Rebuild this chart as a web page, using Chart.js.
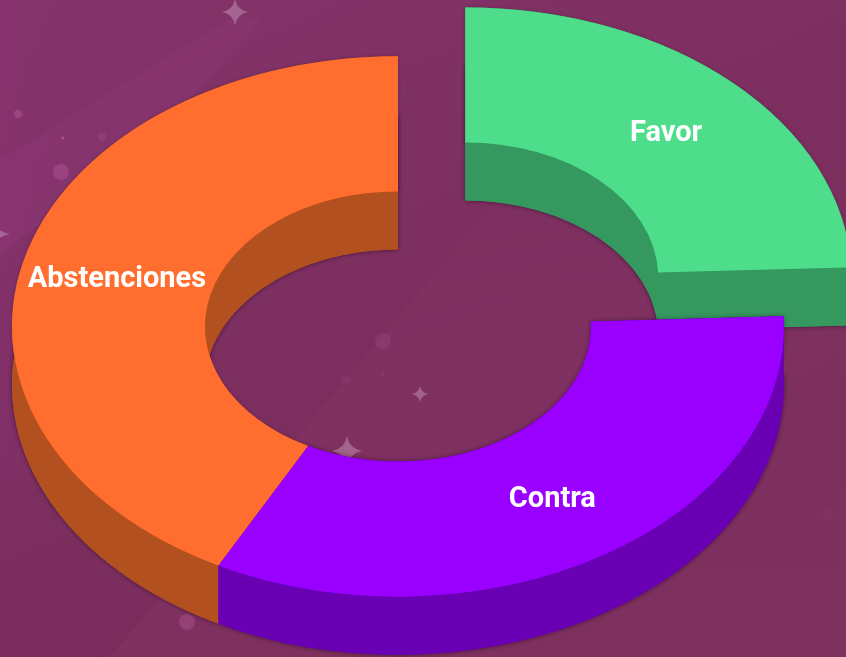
<!DOCTYPE html>
<html>
<head>
<meta charset="UTF-8" />
<title>Votos</title>
<style>
    html, body { margin: 0; padding: 0; background: #7f3162; overflow: hidden; }
    canvas { display: block; }
</style>
<script src="https://cdn.jsdelivr.net/npm/chart.js@4/dist/chart.umd.min.js"></script>
</head>
<body>
<canvas id="votos" width="846" height="657"></canvas>
<script>
var labels = ["Favor", "Contra", "Abstenciones"];
var votes = [24.4, 33.3, 42.3];
var topColors = ["#4edd8b", "#9900ff", "#ff6e2e"];
var sideColors = ["#35995f", "#6a00b3", "#b2501f"];

// look of the tilted ring, on screen pixels
var squash = 0.7;
var depth = 58;
var explode = [97, 0, 0];

// background decoration
var sparkles = [[235, 12, 13], [-10, 234, 20], [347, 451, 15], [420, 394, 8]];
var bubbles = [[18, 114, 4, 0.22], [63, 138, 1.5, 0.4], [102, 137, 4, 0.12], [61, 172, 8, 0.2],
               [187, 622, 8, 0.2], [383, 341, 8, 0.1], [345, 379, 4, 0.08], [383, 374, 2, 0.1], [828, 515, 5, 0.05]];

function drawBackground(ctx, w, h) {
    var g = ctx.createLinearGradient(0, 0, 300, h);
    g.addColorStop(0, "#85346a");
    g.addColorStop(0.55, "#7d2f60");
    g.addColorStop(1, "#792c5b");
    ctx.fillStyle = g;
    ctx.fillRect(0, 0, w, h);

    var left = ctx.createLinearGradient(0, 0, 60, 0);
    left.addColorStop(0, "rgba(150,50,135,0.2)");
    left.addColorStop(1, "rgba(150,50,135,0)");
    ctx.fillStyle = left;
    ctx.fillRect(0, 0, 60, 480);

    ctx.fillStyle = "rgba(160,70,150,0.16)";
    ctx.beginPath();
    ctx.moveTo(0, 160); ctx.lineTo(170, 55); ctx.lineTo(240, 14); ctx.lineTo(262, 20);
    ctx.lineTo(160, 130); ctx.lineTo(0, 255);
    ctx.closePath();
    ctx.fill();

    // soft lighter band behind the ring
    var band = ctx.createLinearGradient(0, 657, 0, 150);
    band.addColorStop(0, "rgba(170,80,125,0.1)");
    band.addColorStop(0.7, "rgba(170,80,125,0.08)");
    band.addColorStop(1, "rgba(170,80,125,0)");
    ctx.fillStyle = band;
    ctx.beginPath();
    ctx.moveTo(110, 657); ctx.lineTo(295, 440); ctx.lineTo(540, 150);
    ctx.lineTo(846, 150); ctx.lineTo(846, 657);
    ctx.closePath();
    ctx.fill();

    ctx.fillStyle = "rgba(255,235,255,0.27)";
    sparkles.forEach(function (s) {
        var x = s[0], y = s[1], r = s[2], k = r * 0.16;
        ctx.beginPath();
        ctx.moveTo(x, y - r);
        ctx.quadraticCurveTo(x + k, y - k, x + r, y);
        ctx.quadraticCurveTo(x + k, y + k, x, y + r);
        ctx.quadraticCurveTo(x - k, y + k, x - r, y);
        ctx.quadraticCurveTo(x - k, y - k, x, y - r);
        ctx.fill();
    });
    bubbles.forEach(function (b) {
        ctx.fillStyle = "rgba(240,130,220," + b[3] + ")";
        ctx.beginPath();
        ctx.arc(b[0], b[1], b[2], 0, Math.PI * 2);
        ctx.fill();
    });
}

function ringPath(ctx, arc) {
    ctx.beginPath();
    ctx.arc(arc.x, arc.y, arc.outerRadius, arc.startAngle, arc.endAngle);
    ctx.arc(arc.x, arc.y, arc.innerRadius, arc.endAngle, arc.startAngle, true);
    ctx.closePath();
}

function midAngle(arc) {
    return (arc.startAngle + arc.endAngle) / 2;
}

// puts the context on the tilted plane of one slice, dy pixels lower on screen
function tilt(ctx, arc, i, dy) {
    var a = midAngle(arc);
    ctx.translate(0, arc.y + dy);
    ctx.scale(1, squash);
    ctx.translate(0, -arc.y);
    ctx.translate(Math.cos(a) * explode[i], Math.sin(a) * explode[i]);
}

function drawShadow(ctx, arc, i, dy, alpha) {
    ctx.save();
    ctx.shadowColor = "rgba(20,0,20," + alpha + ")";
    ctx.shadowBlur = 5;
    tilt(ctx, arc, i, dy);
    ringPath(ctx, arc);
    ctx.fillStyle = sideColors[i];
    ctx.fill();
    ctx.restore();
}

// screen position of a point of the slice, on its top face
function screenPoint(arc, i, r, t) {
    var a = midAngle(arc);
    return {
        x: arc.x + Math.cos(a) * explode[i] + Math.cos(t) * r,
        y: arc.y + (Math.sin(a) * explode[i] + Math.sin(t) * r) * squash
    };
}

// curved wall under one edge of the slice
function fillWall(ctx, arc, i, r) {
    var steps = 120, n, p;
    ctx.beginPath();
    for (n = 0; n <= steps; n++) {
        p = screenPoint(arc, i, r, arc.startAngle + (arc.endAngle - arc.startAngle) * n / steps);
        ctx.lineTo(p.x, p.y);
    }
    for (n = steps; n >= 0; n--) {
        p = screenPoint(arc, i, r, arc.startAngle + (arc.endAngle - arc.startAngle) * n / steps);
        ctx.lineTo(p.x, p.y + depth);
    }
    ctx.closePath();
    ctx.fill();
}

// flat cut face at one end of the slice
function fillEnd(ctx, arc, i, t) {
    var a = screenPoint(arc, i, arc.innerRadius, t);
    var b = screenPoint(arc, i, arc.outerRadius, t);
    ctx.beginPath();
    ctx.moveTo(a.x, a.y);
    ctx.lineTo(b.x, b.y);
    ctx.lineTo(b.x, b.y + depth);
    ctx.lineTo(a.x, a.y + depth);
    ctx.closePath();
    ctx.fill();
}

function drawSlice(ctx, arc, i) {
    ctx.save();
    ctx.fillStyle = sideColors[i];
    fillEnd(ctx, arc, i, arc.startAngle);
    fillWall(ctx, arc, i, arc.innerRadius);
    fillWall(ctx, arc, i, arc.outerRadius);
    fillEnd(ctx, arc, i, arc.endAngle);
    ctx.restore();
    ctx.save();
    tilt(ctx, arc, i, 0);
    arc.draw(ctx);
    ctx.restore();
}

var ring3d = {
    id: "ring3d",
    beforeDraw: function (chart) {
        drawBackground(chart.ctx, chart.width, chart.height);
    },
    beforeDatasetDraw: function (chart, args) {
        var ctx = chart.ctx;
        var arcs = args.meta.data;
        // the exploded slice sits behind the other two
        drawShadow(ctx, arcs[0], 0, depth, 0.55);
        drawShadow(ctx, arcs[0], 0, 0, 0.2);
        drawSlice(ctx, arcs[0], 0);
        [2, 1].forEach(function (i) {
            drawShadow(ctx, arcs[i], i, depth, 0.55);
            drawShadow(ctx, arcs[i], i, 0, i === 1 ? 0.45 : 0.2);
        });
        drawSlice(ctx, arcs[2], 2);
        drawSlice(ctx, arcs[1], 1);
        return false;
    },
    afterDatasetsDraw: function (chart) {
        var ctx = chart.ctx;
        var arcs = chart.getDatasetMeta(0).data;
        ctx.save();
        ctx.font = "bold 29px Roboto";
        ctx.fillStyle = "#ffffff";
        ctx.textAlign = "center";
        ctx.textBaseline = "middle";
        arcs.forEach(function (arc, i) {
            var a = midAngle(arc);
            var r = (arc.innerRadius + arc.outerRadius) / 2 + explode[i];
            ctx.fillText(labels[i], arc.x + Math.cos(a) * r, arc.y + Math.sin(a) * r * squash + 2);
        });
        ctx.restore();
    }
};

new Chart(document.getElementById("votos"), {
    type: "doughnut",
    data: {
        labels: labels,
        datasets: [{
            data: votes,
            backgroundColor: topColors,
            borderWidth: 0,
            hoverOffset: 0,
            clip: false
        }]
    },
    options: {
        responsive: false,
        animation: false,
        radius: 386,
        cutout: "50%",
        layout: { padding: { right: 50, bottom: 4 } },
        plugins: { legend: { display: false }, tooltip: { enabled: false } }
    },
    plugins: [ring3d]
});
</script>
</body>
</html>
